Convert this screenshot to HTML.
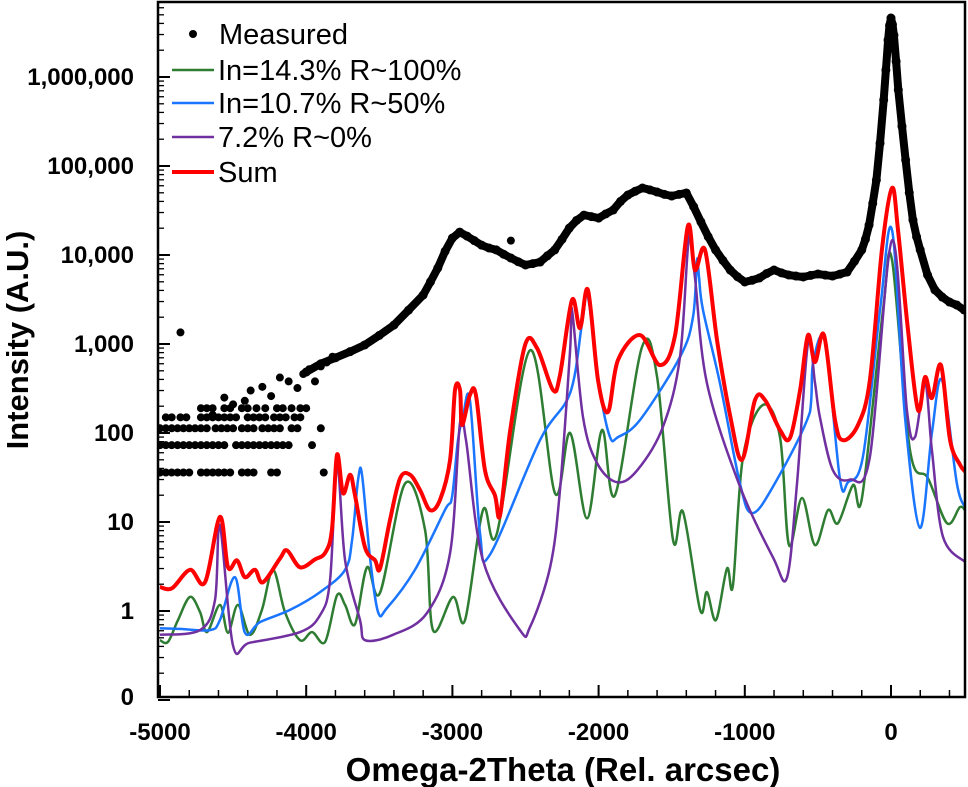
<!DOCTYPE html>
<html><head><meta charset="utf-8"><style>
html,body{margin:0;padding:0;background:#fff;}
svg{display:block;font-family:"Liberation Sans",Arial,sans-serif;}
</style></head><body>
<svg id="chart" width="968" height="787" viewBox="0 0 968 787">
<defs><clipPath id="plotclip"><rect x="158" y="2" width="807" height="695"/></clipPath></defs>
<g id="series" clip-path="url(#plotclip)"></g>
<g id="axes"></g>
<text x="563" y="781" text-anchor="middle" font-size="33" font-weight="bold">Omega-2Theta (Rel. arcsec)</text>
<text transform="translate(28,340) rotate(-90)" text-anchor="middle" font-size="31" font-weight="bold">Intensity (A.U.)</text>
<g font-size="29">
<g><circle cx="193" cy="34" r="4" fill="#000"/><text x="219" y="44">Measured</text></g>
<g><line x1="172" y1="70" x2="214" y2="70" stroke="#2e7d32" stroke-width="2.5"/><text x="218" y="80">In=14.3% R~100%</text></g>
<g><line x1="172" y1="103" x2="214" y2="103" stroke="#1a75ff" stroke-width="2.5"/><text x="218" y="113">In=10.7% R~50%</text></g>
<g><line x1="172" y1="137" x2="214" y2="137" stroke="#7030a0" stroke-width="2.5"/><text x="218" y="147">7.2% R~0%</text></g>
<g><line x1="172" y1="172" x2="214" y2="172" stroke="#ff0000" stroke-width="4"/><text x="218" y="182">Sum</text></g>
</g>
</svg>
<script>
// ---- data ----
const xTicks = [-5000,-4000,-3000,-2000,-1000,0];
const xTickLabels = ["-5000","-4000","-3000","-2000","-1000","0"];
const yTicks = [0.1,1,10,100,1000,10000,100000,1000000];
const yTickLabels = ["0","1","10","100","1,000","10,000","100,000","1,000,000"];

const measuredX = [-4000,-3900,-3800,-3700,-3600,-3500,-3400,-3300,-3200,-3150,-3100,-3050,-3000,-2950,-2900,-2850,-2800,-2750,-2700,-2650,-2600,-2550,-2500,-2450,-2400,-2350,-2300,-2250,-2200,-2150,-2100,-2050,-2000,-1950,-1900,-1850,-1800,-1750,-1700,-1650,-1600,-1550,-1500,-1450,-1400,-1350,-1300,-1250,-1200,-1150,-1100,-1050,-1000,-950,-900,-850,-800,-750,-700,-650,-600,-550,-500,-450,-400,-350,-300,-250,-200,-175,-150,-125,-100,-75,-50,-35,-20,-10,0,10,20,35,50,75,100,125,150,175,200,250,300,350,400,450,500];
const measuredY = [484,600,700,820,975,1250,1630,2400,3550,5000,7140,11000,15500,18100,16300,14500,12900,12000,11400,10200,9250,8400,7720,8000,8340,9800,11400,15000,20100,24500,28100,27000,26000,29000,32000,40000,47200,52000,56600,54000,51000,48000,46000,48000,49800,35000,23500,16000,11400,8700,6780,5700,4980,5200,5520,6200,6780,6300,5960,5800,5660,5900,6120,5950,5800,6100,6440,8500,11400,15000,21700,38000,69700,180000,552000,1200000,2600000,3800000,4600000,3900000,2950000,1500000,714000,280000,117000,50000,24700,16000,11400,5960,4050,3370,2960,2740,2410];
const scatterX = [-5000,-4960,-4920,-4880,-4840,-4800,-4720,-4680,-4640,-4600,-4560,-4520,-4440,-4400,-4360,-4240,-4200,-3880,
 -5000,-4960,-4920,-4880,-4840,-4800,-4760,-4720,-4680,-4640,-4600,-4560,-4480,-4440,-4400,-4360,-4320,-4280,-4240,-4200,-4160,-4120,-3960,
 -5000,-4960,-4920,-4880,-4840,-4800,-4760,-4720,-4680,-4620,-4580,-4540,-4500,-4440,-4400,-4360,-4300,-4260,-4220,-4180,-4100,-4060,-3900,
 -4960,-4920,-4860,-4820,-4720,-4680,-4640,-4600,-4560,-4520,-4480,-4400,-4360,-4320,-4280,-4220,-4180,-4140,-4080,-4040,
 -4720,-4680,-4640,-4560,-4520,-4440,-4400,-4340,-4280,-4200,-4160,-4100,-4040,-4000,
 -4860,-4640,-4560,-4500,-4420,-4380,-4300,-4240,-4180,-4120,-4060,-4020,-3980,-3940,-3900,-3860,-3820,-2600];
const scatterY = [36,36,36,36,36,36,36,36,36,36,36,36,36,36,36,36,36,36,
 73,73,73,73,73,73,73,73,73,73,73,73,73,73,73,73,73,73,73,73,73,73,73,
 113,113,113,113,113,113,113,113,113,113,113,113,113,113,113,113,113,113,113,113,113,113,113,
 150,150,150,150,150,150,150,150,150,150,150,150,150,150,150,150,150,150,150,150,
 190,190,190,190,190,190,190,190,190,190,190,190,190,190,
 1350,160,250,210,230,300,330,260,420,380,320,460,520,380,560,620,720,14500];

const greenX = [-5000,-4945,-4877,-4795,-4726,-4678,-4590,-4535,-4467,-4385,-4303,-4227,-4145,-4042,-3960,-3871,-3789,-3734,-3666,-3584,-3495,-3324,-3187,-3133,-2996,-2914,-2791,-2695,-2469,-2298,-2195,-2079,-1977,-1888,-1703,-1600,-1491,-1423,-1306,-1259,-1197,-1122,-1081,-1012,-875,-759,-698,-609,-520,-431,-363,-260,-198,-55,7,130,253,383,472,513];
const greenY = [0.47,0.45,0.79,1.44,0.97,0.58,1.17,0.57,1.17,0.54,1.03,2.9,0.97,0.47,0.58,0.45,1.5,1.17,0.71,3.1,1.6,27,8.1,0.61,1.44,0.79,13.6,7.5,850,21,100,11,108,20,925,426,6.3,13,1.03,1.63,0.79,3.0,1.96,54,207,90,5.5,18.6,5.5,13.6,9.7,26,19,2410,8800,64,31,9.7,14.7,13];

const blueX = [-5000,-4863,-4658,-4590,-4487,-4419,-4316,-4111,-3905,-3734,-3686,-3645,-3618,-3563,-3508,-3447,-3256,-3051,-3003,-2962,-2928,-2880,-2811,-2743,-2401,-2195,-2113,-2073,-1991,-1922,-1867,-1717,-1443,-1354,-1327,-1313,-1286,-1170,-1033,-951,-807,-554,-533,-451,-349,-294,-192,-75,7,96,198,280,349,451,506];
const blueY = [0.64,0.63,0.61,0.79,2.4,0.57,0.75,1.03,1.63,2.9,6.3,30,34,3.9,0.97,1.08,2.9,13.6,19,83,151,235,7.5,4.3,83,281,1720,3370,304,90,90,140,715,2010,8800,5660,2410,365,27,12.6,25,172,612,1050,30,28,54,2410,19100,151,8.6,100,394,27,14.7];

const purpleX = [-5000,-4726,-4624,-4590,-4501,-4385,-4042,-3905,-3837,-3789,-3734,-3632,-3598,-3406,-3174,-3016,-2948,-2907,-2791,-2538,-2469,-2332,-2264,-2195,-2182,-2107,-2011,-1874,-1737,-1560,-1443,-1382,-1341,-1259,-1033,-807,-711,-643,-568,-520,-486,-397,-280,-144,7,109,164,233,280,356,513];
const purpleY = [0.54,0.61,1.33,9.2,0.41,0.44,0.58,0.9,2.2,44,3.7,0.79,0.47,0.54,0.95,4.5,130,83,3.7,0.61,0.66,3.1,23,850,2410,151,46,28,38,117,715,16000,5660,365,25,4.0,2.4,27,1020,365,151,38,30,54,14600,181,90,365,64,6.8,3.5];

const redX = [-5000,-4918,-4795,-4692,-4590,-4535,-4473,-4419,-4350,-4296,-4179,-4131,-4042,-3940,-3871,-3824,-3789,-3748,-3700,-3666,-3598,-3529,-3495,-3427,-3358,-3290,-3222,-3153,-3085,-3016,-2982,-2948,-2934,-2880,-2839,-2777,-2709,-2674,-2606,-2503,-2421,-2312,-2264,-2182,-2127,-2073,-2004,-1936,-1867,-1717,-1580,-1477,-1389,-1341,-1272,-1190,-1101,-1019,-930,-862,-759,-691,-622,-568,-520,-458,-383,-328,-226,-144,-62,7,48,116,185,233,280,342,404,472,513];
const redY = [1.86,1.8,2.9,2.1,11.4,3.1,3.7,2.4,2.9,2.1,3.9,4.8,3.1,3.8,4.5,8.1,57,21,34,20,5.2,3.7,3.0,10.5,31,34,23,13.6,17.7,50,304,304,123,267,267,38,20,12,103,975,900,304,449,3120,1510,4050,394,172,661,1260,580,1260,21200,6780,11400,1110,159,50,235,235,108,88,304,1260,628,1260,140,83,123,394,11400,56600,19100,1440,181,426,247,580,83,44,36];

// ---- scales ----
const PX_PER = 0.1462, ZERO_X = 891;
function xs(v){ return ZERO_X + v*PX_PER; }
function ys(v){ return 611 - 89*Math.log10(v); }
const NS = "http://www.w3.org/2000/svg";
function mk(tag, attrs, parent){ const e=document.createElementNS(NS,tag); for(const k in attrs) e.setAttribute(k, attrs[k]); parent.appendChild(e); return e; }
const gS = document.getElementById('series'), gA = document.getElementById('axes');

function smoothD(xa, ya){
  const p = xa.map((x,i)=>[xs(x), ys(ya[i])]);
  let d = 'M'+p[0][0].toFixed(1)+','+p[0][1].toFixed(1);
  const t = 0.5/3;
  for(let i=0;i<p.length-1;i++){
    const p0 = p[i-1]||p[i], p1=p[i], p2=p[i+1], p3=p[i+2]||p[i+1];
    let c1x = p1[0]+(p2[0]-p0[0])*t, c1y = p1[1]+(p2[1]-p0[1])*t;
    let c2x = p2[0]-(p3[0]-p1[0])*t, c2y = p2[1]-(p3[1]-p1[1])*t;
    c1x = Math.min(Math.max(c1x,p1[0]),p2[0]); c2x = Math.min(Math.max(c2x,p1[0]),p2[0]);
    d += 'C'+c1x.toFixed(1)+','+c1y.toFixed(1)+' '+c2x.toFixed(1)+','+c2y.toFixed(1)+' '+p2[0].toFixed(1)+','+p2[1].toFixed(1);
  }
  return d;
}
function lineD(xa, ya){ return xa.map((x,i)=>(i?'L':'M')+xs(x).toFixed(1)+','+ys(ya[i]).toFixed(1)).join(''); }

// measured
const mLine = mk('path',{d:lineD(measuredX,measuredY),fill:'none',stroke:'#000','stroke-width':8,'stroke-linejoin':'round','stroke-linecap':'round'},gS);


measuredX.forEach((x,i)=>{
  const c = mk('circle',{cx:xs(x),cy:ys(measuredY[i]),r:4.5,fill:'#000'},gS);
  
  
});
scatterX.forEach((x,i)=>{
  const c = mk('circle',{cx:xs(x),cy:ys(scatterY[i]),r:4,fill:'#000'},gS);
  
  
});
const lines = [
  [greenX,greenY,'#2e7d32',2.5,'green-line-in14'],
  [blueX,blueY,'#1a75ff',2.5,'blue-line-in10'],
  [purpleX,purpleY,'#7030a0',2.5,'purple-line-7pct'],
  [redX,redY,'#ff0000',4,'sum-line']
];
lines.forEach(l=>{
  const p = mk('path',{d:smoothD(l[0],l[1]),fill:'none',stroke:l[2],'stroke-width':l[3],'stroke-linejoin':'round'},gS);
  
  
});

const frame = mk('rect',{x:158,y:2,width:807,height:695,fill:'none',stroke:'#000','stroke-width':2.5},gA);


for(let v=-5000; v<=500; v+=200){
  const t = mk('line',{x1:xs(v),x2:xs(v),y1:697,y2:690,stroke:'#000','stroke-width':1.5},gA);
  
  
}
xTicks.forEach((v,i)=>{
  const t = mk('line',{x1:xs(v),x2:xs(v),y1:697,y2:685,stroke:'#000','stroke-width':2},gA);
  
  
  const tx = mk('text',{x:xs(v),y:740,'text-anchor':'middle','font-size':24,'font-weight':'bold',fill:'#000'},gA);
  tx.textContent = xTickLabels[i];
  
  
});
yTicks.forEach((v,i)=>{
  const y = ys(v);
  const t = mk('line',{x1:158,x2:170,y1:y,y2:y,stroke:'#000','stroke-width':2},gA);
  
  
  for(let m=2;m<=9;m++){
    const yy = ys(v*m);
    if(yy<3) continue;
    const mt = mk('line',{x1:158,x2:164,y1:yy,y2:yy,stroke:'#000','stroke-width':1.3},gA);
    
    
  }
  const tx = mk('text',{x:134,y:Math.min(y+8,705),'text-anchor':'end','font-size':24,'font-weight':'bold',fill:'#000'},gA);
  tx.textContent = yTickLabels[i];
  
  
});
</script>
</body></html>
